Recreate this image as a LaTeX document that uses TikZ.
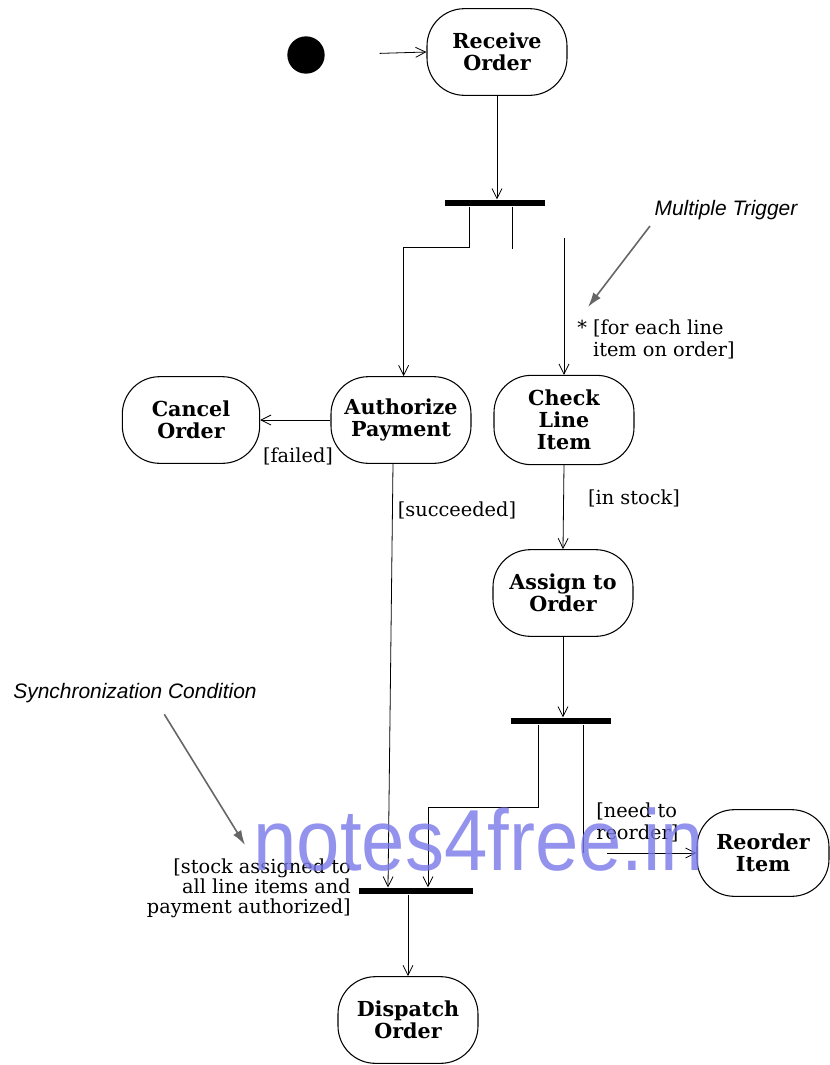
\documentclass[tikz,border=0pt]{standalone}
\usepackage{fontspec}
\setmainfont{DejaVu Serif}
\newfontfamily\notefont{Liberation Sans}
\newfontfamily\wmfont[FakeStretch=0.9]{Liberation Sans}
\usetikzlibrary{arrows.meta}
\definecolor{wm}{RGB}{120,120,232}
\begin{document}
\begin{tikzpicture}[x=0.75pt,y=-0.75pt,
 act/.style={draw, line width=0.8pt, rounded corners=28pt, minimum width=105pt, minimum height=65pt, align=center, font=\fontsize{15.5}{16.5}\selectfont\bfseries, inner sep=2pt},
 bar/.style={fill=black, inner sep=0pt, minimum height=5pt},
 flow/.style={line width=0.6pt, -{Straight Barb[length=7.5pt,width=7.5pt]}},
 plain/.style={line width=0.6pt},
 lbl/.style={font=\fontsize{14.5}{16.5}\selectfont, inner sep=0pt},
 note/.style={font=\notefont\itshape\fontsize{15.7}{17}\selectfont, inner sep=0pt},
 notearrow/.style={draw=gray!80!black, line width=1.2pt, -{Latex[length=11pt,width=7pt]}}]
\useasboundingbox (0,0) rectangle (830,1065);

% nodes
\node[circle, fill=black, minimum size=28pt, inner sep=0pt] (init) at (306,55) {};
\node[act] (recv) at (497,52) {Receive\\Order};
\node[bar, minimum width=75pt] (fork1) at (495,203) {};
\node[act] (auth) at (401,420) {Authorize\\Payment};
\node[act, minimum width=103pt] (cancel) at (191,420) {Cancel\\Order};
\node[act, minimum height=67pt] (check) at (564,420) {Check\\Line\\Item};
\node[act] (assign) at (563,593) {Assign to\\Order};
\node[bar, minimum width=75pt] (fork2) at (561,721) {};
\node[act, minimum width=99pt] (reorder) at (763,853) {Reorder\\Item};
\node[bar, minimum width=85pt] (join) at (416,891) {};
\node[act] (dispatch) at (408,1020) {Dispatch\\Order};

% connectors
\draw[flow, shorten <=41pt] (init.east) -- (recv.west);
\draw[flow] (recv.south) -- (recv.south |- fork1.north);
\draw[flow] ([xshift=-19pt]fork1.south) -- ++(0,41) -| ([xshift=2pt]auth.north);
\draw[plain] ([xshift=13pt]fork1.south) -- ++(0,42);
\coordinate (c1) at (564,238);
\draw[flow] (c1) -- (check.north);
\draw[flow] (auth.west) -- (cancel.east);
\draw[flow] ([xshift=-6pt]auth.south) -- ([xshift=-21pt]join.north);
\draw[flow] (check.south) -- (assign.north);
\draw[flow] (assign.south) -- (assign.south |- fork2.north);
\draw[flow] ([xshift=-17pt]fork2.south) -- ++(0,83) -| ([xshift=9pt]join.north);
\draw[plain] ([xshift=16.5pt]fork2.south) -- ++(0,128);
\coordinate (c2) at (607,853);
\draw[flow] (c2) -- (reorder.west);
\draw[flow] ([xshift=-6pt]join.south) -- ([xshift=-6pt]join.south |- dispatch.north);

% guard labels
\node[lbl] (lfailed) at (298,456) {[failed]};
\node[lbl] (lsucc) at (457,510) {[succeeded]};
\node[lbl] (lstock) at (634,498) {[in stock]};
\node[lbl, anchor=west, align=left] (lreorder) at (596,822) {[need to\\reorder]};
\node[lbl, anchor=east, align=right, font=\fontsize{14.5}{15}\selectfont] (lsync) at (351,888) {[stock assigned to\\all line items and\\payment authorized]};
\node[lbl, anchor=west, align=left] (ltrig) at (577,339) {* [for each line\\\phantom{*} item on order]};

% annotations
\node[note] (mt) at (726,210) {Multiple Trigger};
\node[note] (sc) at (135,693) {Synchronization Condition};
\coordinate (mtend) at (588,307);
\coordinate (scend) at (245,845);
\draw[notearrow] ([xshift=-57pt,yshift=-12pt]mt.center) -- (mtend);
\draw[notearrow] ([xshift=22pt,yshift=-16pt]sc.center) -- (scend);

% watermark
\node[font=\wmfont\fontsize{65}{67}\selectfont, text=wm, opacity=0.8, anchor=base west, inner sep=0pt] (wmk) at (253,870) {notes4free.in};
\end{tikzpicture}
\end{document}
